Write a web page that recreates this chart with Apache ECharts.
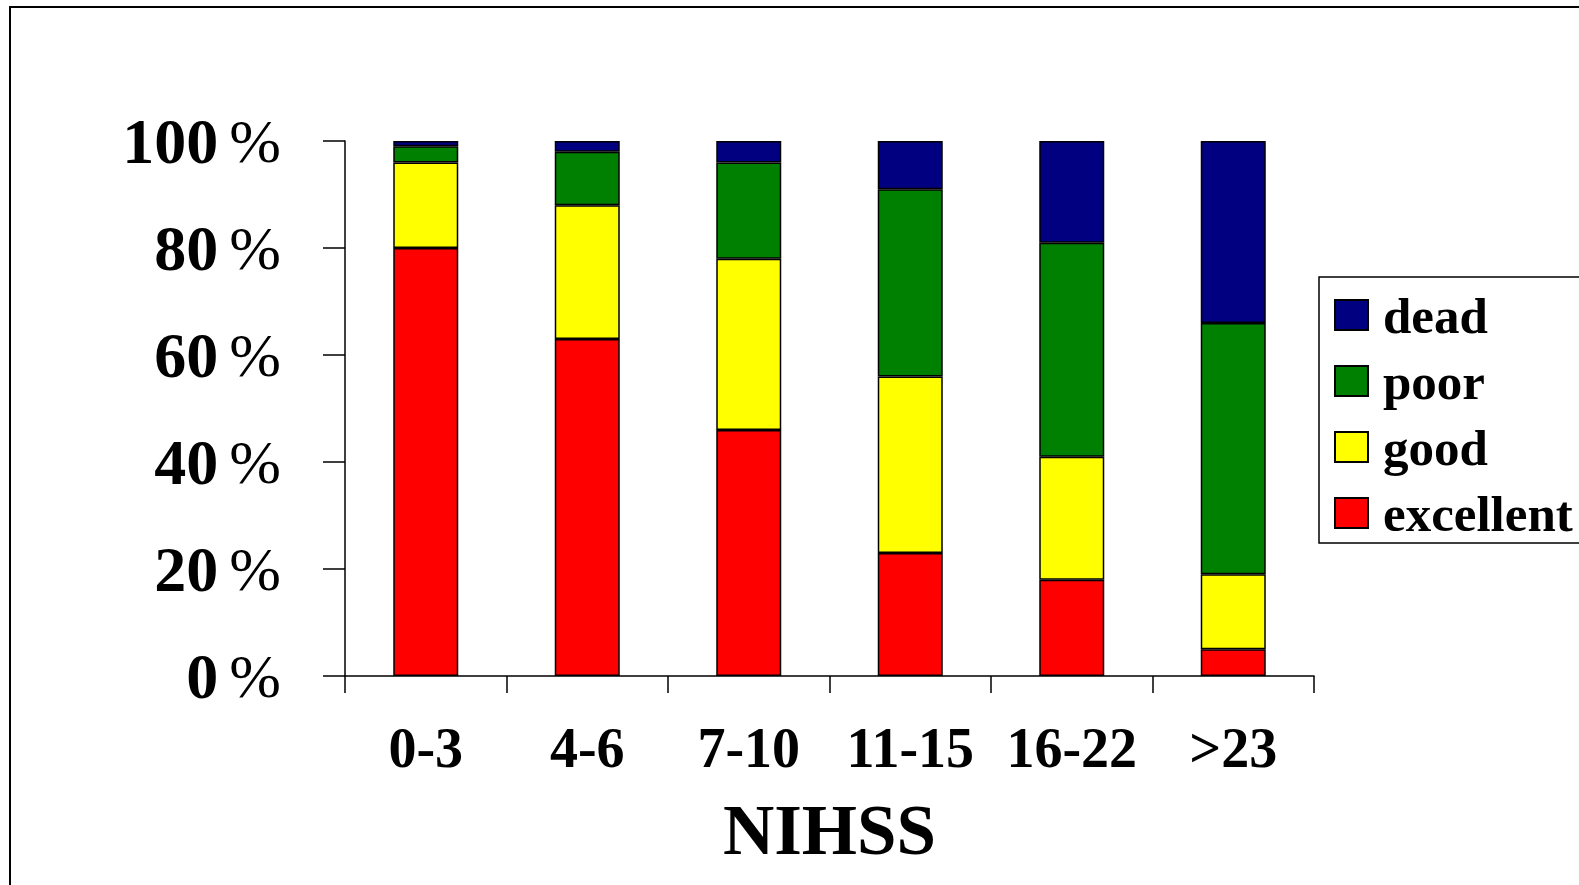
<!DOCTYPE html>
<html>
<head>
<meta charset="utf-8">
<script src="https://cdn.jsdelivr.net/npm/echarts@6/dist/echarts.min.js"></script>
<style>
  html, body { margin: 0; padding: 0; background: #fff; }
  #chart { width: 1579px; height: 885px; }
</style>
</head>
<body>
<div id="chart"></div>
<script>
// NIHSS groups on the category axis
const categories = ['0-3', '4-6', '7-10', '11-15', '16-22', '>23'];

// Outcome shares (%) per NIHSS group, stacked bottom to top
const excellent = [80, 63, 46, 23, 18, 5];
const good      = [16, 25, 32, 33, 23, 14];
const poor      = [3, 10, 18, 35, 40, 47];
const dead      = [1, 2, 4, 9, 19, 34];

// Legend order, top to bottom
const legendOrder = ['dead', 'poor', 'good', 'excellent'];

const FONT = "'Liberation Serif', 'Times New Roman', serif";

const chart = echarts.init(document.getElementById('chart'));

function barSeries(name, data, color) {
  return {
    name: name,
    type: 'bar',
    stack: 'outcome',
    data: data,
    barWidth: 65,
    itemStyle: { color: color, borderColor: '#000', borderWidth: 1.5 }
  };
}

chart.setOption({
  backgroundColor: '#fff',
  animation: false,
  graphic: [{
    type: 'rect',
    z: -1,
    shape: { x: 10, y: 7, width: 1620, height: 920 },
    style: { fill: 'none', stroke: '#000', lineWidth: 2 }
  }],
  grid: { left: 345, right: 265, top: 141, bottom: 209 },
  legend: {
    data: legendOrder,
    orient: 'vertical',
    left: 1319,
    top: 277,
    itemWidth: 33,
    itemHeight: 30,
    itemGap: 15,
    icon: 'rect',
    padding: [17, 40, 0, 15],
    borderColor: '#000',
    borderWidth: 1.5,
    backgroundColor: '#fff',
    // name token aligned to the bottom of a taller line so it sits on the icon's baseline
    formatter: name => '{t|' + name + '}{g| }',
    textStyle: {
      color: '#000',
      padding: [0, 0, 0, 10],
      rich: {
        t: { fontFamily: FONT, fontWeight: 'bold', fontSize: 51, lineHeight: 52,
             verticalAlign: 'bottom', color: '#000' },
        g: { fontSize: 1, lineHeight: 60 }
      }
    }
  },
  xAxis: {
    type: 'category',
    data: categories,
    name: 'NIHSS',
    nameLocation: 'middle',
    nameGap: 124,
    nameTextStyle: { fontFamily: FONT, fontWeight: 'bold', fontSize: 71, color: '#000' },
    axisLine: { lineStyle: { color: '#000', width: 1.5 } },
    axisTick: { show: true, interval: 0, length: 17, lineStyle: { color: '#000', width: 1.5 } },
    axisLabel: {
      interval: 0,
      fontFamily: FONT, fontWeight: 'bold', fontSize: 56, color: '#000', margin: 49
    }
  },
  yAxis: {
    type: 'value',
    min: 0,
    max: 100,
    interval: 20,
    splitLine: { show: false },
    axisLine: { show: true, lineStyle: { color: '#000', width: 1.5 } },
    axisTick: { show: true, length: 22, lineStyle: { color: '#000', width: 1.5 } },
    axisLabel: {
      margin: 64,
      padding: [10, 0, 0, 0],
      formatter: v => '{n|' + v + '}{s| }{p|%}',
      rich: {
        n: { fontFamily: FONT, fontWeight: 'bold', fontSize: 64, color: '#000' },
        s: { fontFamily: FONT, fontSize: 44 },
        p: { fontFamily: FONT, fontWeight: 'normal', fontSize: 62, color: '#000' }
      }
    }
  },
  series: [
    barSeries('excellent', excellent, '#FF0000'),
    barSeries('good', good, '#FFFF00'),
    barSeries('poor', poor, '#008000'),
    barSeries('dead', dead, '#000080')
  ]
});
</script>
</body>
</html>
